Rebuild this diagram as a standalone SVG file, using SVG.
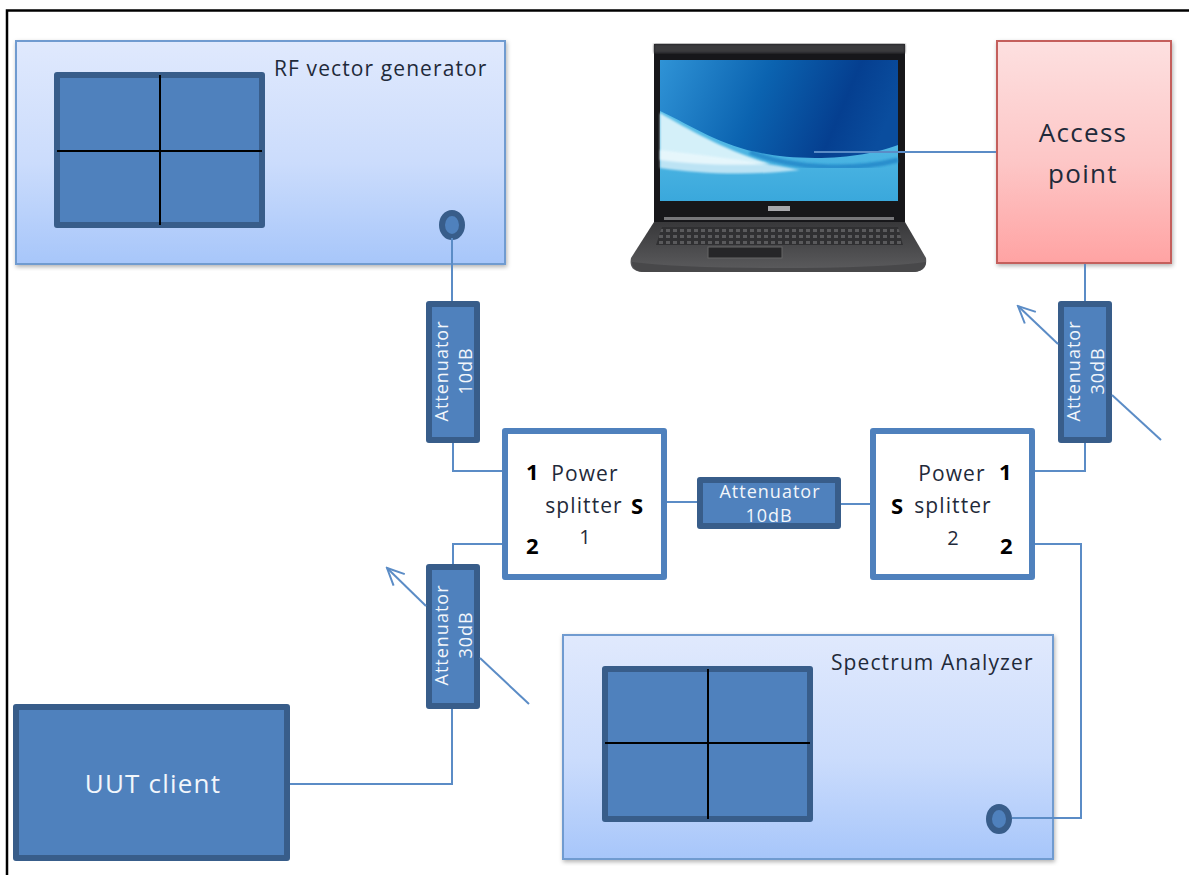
<svg xmlns="http://www.w3.org/2000/svg" width="1189" height="875" viewBox="0 0 1189 875">
<style>
.t{font-family:"Open Sans","Liberation Sans",sans-serif}
.w{fill:#f2f6fb;letter-spacing:1px}
.k{fill:#1f2a3a}
.s21{font-size:21px;letter-spacing:1.1px}
.b{font-weight:700;fill:#000;font-size:22px}
.line{fill:none;stroke:#5b8cc6;stroke-width:2}
.dark{fill:#4f81bd;stroke:#385d8a;stroke-width:6;stroke-linejoin:round}
.split{fill:#fff;stroke:#4f81bd;stroke-width:6;stroke-linejoin:round}
.panel{fill:url(#pg);stroke:#6f9bd0;stroke-width:2;filter:url(#sh)}
</style>
<defs>
<filter id="sh" x="-3%" y="-3%" width="106%" height="106%"><feDropShadow dx="1" dy="2" stdDeviation="2" flood-color="#000" flood-opacity=".3"/></filter>
<filter id="bl" x="-10%" y="-10%" width="120%" height="120%"><feGaussianBlur stdDeviation="3"/></filter>
<filter id="bl1" x="-5%" y="-5%" width="110%" height="110%"><feGaussianBlur stdDeviation="1"/></filter>
<linearGradient id="pg" x1="0" y1="0" x2="0" y2="1"><stop offset="0" stop-color="#e0e9fd"/><stop offset=".55" stop-color="#cbdcfc"/><stop offset="1" stop-color="#a7c6fa"/></linearGradient>
<linearGradient id="rg" x1="0" y1="0" x2="0" y2="1"><stop offset="0" stop-color="#fde0e0"/><stop offset=".55" stop-color="#fdc6c6"/><stop offset="1" stop-color="#ffa3a3"/></linearGradient>
<linearGradient id="scr" x1="0" y1="0" x2="1" y2=".25"><stop offset="0" stop-color="#2f93d6"/><stop offset=".45" stop-color="#0b63b0"/><stop offset=".8" stop-color="#053f90"/><stop offset="1" stop-color="#0a4d9e"/></linearGradient>
<linearGradient id="low" x1="0" y1="0" x2="0" y2="1"><stop offset="0" stop-color="#5cc0e8"/><stop offset="1" stop-color="#3aa8dc"/></linearGradient>
<linearGradient id="kb" x1="0" y1="0" x2="0" y2="1"><stop offset="0" stop-color="#38383a"/><stop offset="1" stop-color="#5c5c5e"/></linearGradient>
<pattern id="keys" width="7" height="6" patternUnits="userSpaceOnUse"><rect width="7" height="6" fill="#303032"/><rect x="1" y="1" width="4" height="3" fill="#5a5a5c"/></pattern>
<marker id="open" markerWidth="22" markerHeight="22" refX="20" refY="11" orient="auto" markerUnits="userSpaceOnUse"><path d="M3 3 L20 11 L3 19" fill="none" stroke="#5b8cc6" stroke-width="2"/></marker>
</defs>
<rect width="1189" height="875" fill="#fff"/>
<path d="M7 875V10.500H1189" fill="none" stroke="#000" stroke-width="2.500"/>

<g id="laptop">
<path d="M654 44H905V226H654Z" fill="#17171a"/>
<rect x="654" y="44" width="251" height="9" fill="#3a3a3c" filter="url(#bl1)"/>
<rect x="660" y="60" width="238" height="141" fill="url(#scr)"/>
<path d="M660 111C705 132 735 158 815 158C850 158 880 152 898 145V201H660Z" fill="url(#low)"/>
<path d="M660 113C690 130 720 148 770 164C725 166 690 164 660 160Z" fill="#d4f0f9" filter="url(#bl1)"/>
<path d="M660 150C700 155 750 160 800 170C750 176 700 174 660 168Z" fill="#eef9fd" opacity=".7" filter="url(#bl1)"/>
<path d="M750 152C790 168 850 172 898 160" fill="none" stroke="#1b7fc4" stroke-width="5" opacity=".7" filter="url(#bl1)"/>
<rect x="768" y="206" width="22" height="5" fill="#a8a8ac"/>
<path d="M654 222H905L926 258Q928 272 912 272H645Q628 272 631 258Z" fill="url(#kb)"/>
<rect x="664" y="217" width="230" height="3" fill="#77777a"/>
<path d="M662 227H898L903 245H656Z" fill="url(#keys)"/>
<rect x="708" y="247" width="74" height="11" fill="#262628" stroke="#666" stroke-width="1"/>
<path d="M632 262Q680 268 780 268T926 262Q925 272 912 272H645Q632 272 632 262Z" fill="#48484a"/>
</g>

<g id="rf-generator">
<rect class="panel" x="16" y="41" width="489" height="223"/>
<rect class="dark" x="57" y="75" width="205" height="150"/>
<path d="M160 75V225M57 151H262" stroke="#000" stroke-width="2" fill="none"/>
<ellipse cx="452" cy="225" rx="10" ry="12" fill="#4f81bd" stroke="#385d8a" stroke-width="6"/>
<text class="t k s21" x="274" y="76">RF vector generator</text>
</g>

<g id="access-point">
<rect x="997" y="41" width="174" height="222" fill="url(#rg)" stroke="#c45f5c" stroke-width="2" filter="url(#sh)"/>
<text class="t k" x="1083" y="142" font-size="26" letter-spacing="1.300" text-anchor="middle">Access</text>
<text class="t k" x="1083" y="183" font-size="26" letter-spacing="1.300" text-anchor="middle">point</text>
</g>

<g id="attenuator-1">
<rect class="dark" x="429" y="304" width="48" height="136"/>
<text class="t w" transform="translate(448 371) rotate(-90)" font-size="18" text-anchor="middle">Attenuator</text>
<text class="t w" transform="translate(472 371) rotate(-90)" font-size="18" text-anchor="middle">10dB</text>
</g>

<g id="splitter-1">
<rect class="split" x="505" y="431" width="159" height="146"/>
<text class="t k s21" x="585" y="481" text-anchor="middle">Power</text>
<text class="t k s21" x="584" y="513" text-anchor="middle">splitter</text>
<text class="t k" x="585" y="544" font-size="20" text-anchor="middle">1</text>
<text class="t b" x="526" y="480">1</text>
<text class="t b" x="526" y="554">2</text>
<text class="t b" x="631" y="514">S</text>
</g>

<g id="attenuator-2">
<rect class="dark" x="700" y="480" width="138" height="46"/>
<text class="t w" x="770" y="498" font-size="18" text-anchor="middle">Attenuator</text>
<text class="t w" x="769" y="522" font-size="18" text-anchor="middle">10dB</text>
</g>

<g id="splitter-2">
<rect class="split" x="873" y="431" width="159" height="146"/>
<text class="t k s21" x="952" y="481" text-anchor="middle">Power</text>
<text class="t k s21" x="953" y="513" text-anchor="middle">splitter</text>
<text class="t k" x="953" y="545" font-size="20" text-anchor="middle">2</text>
<text class="t b" x="999" y="480">1</text>
<text class="t b" x="1000" y="554">2</text>
<text class="t b" x="891" y="514">S</text>
</g>

<g id="attenuator-3">
<rect class="dark" x="1061" y="304" width="48" height="136"/>
<text class="t w" transform="translate(1080 371) rotate(-90)" font-size="18" text-anchor="middle">Attenuator</text>
<text class="t w" transform="translate(1104 371) rotate(-90)" font-size="18" text-anchor="middle">30dB</text>
</g>

<g id="attenuator-4">
<rect class="dark" x="429" y="567" width="48" height="139"/>
<text class="t w" transform="translate(448 635) rotate(-90)" font-size="18" text-anchor="middle">Attenuator</text>
<text class="t w" transform="translate(472 635) rotate(-90)" font-size="18" text-anchor="middle">30dB</text>
</g>

<g id="uut-client">
<rect class="dark" x="16" y="707" width="271" height="151"/>
<text class="t" fill="#f2f6fb" x="153" y="793" font-size="26" letter-spacing="1.200" text-anchor="middle">UUT client</text>
</g>

<g id="spectrum-analyzer">
<rect class="panel" x="563" y="635" width="490" height="224"/>
<rect class="dark" x="605" y="669" width="205" height="150"/>
<path d="M708 669V819M605 743H810" stroke="#000" stroke-width="2" fill="none"/>
<ellipse cx="999" cy="819" rx="10" ry="12" fill="#4f81bd" stroke="#385d8a" stroke-width="6"/>
<text class="t k s21" x="831" y="670">Spectrum Analyzer</text>
</g>

<g id="connectors">
<path class="line" d="M452 238V301"/>
<path class="line" d="M453 443V471H502"/>
<path class="line" d="M453 564V544H502"/>
<path class="line" d="M667 502H697"/>
<path class="line" d="M841 504H870"/>
<path class="line" d="M1035 471H1085V443"/>
<path class="line" d="M1085 301V264"/>
<path class="line" d="M1035 544H1081V818H1012"/>
<path class="line" d="M452 709V784H290"/>
<path class="line" d="M814 152H996"/>
<path class="line" d="M1161 440L1112 395"/>
<path class="line" d="M1058 344L1018 306" marker-end="url(#open)"/>
<path class="line" d="M529 704L480 658"/>
<path class="line" d="M426 606L387 568" marker-end="url(#open)"/>
</g>
</svg>
